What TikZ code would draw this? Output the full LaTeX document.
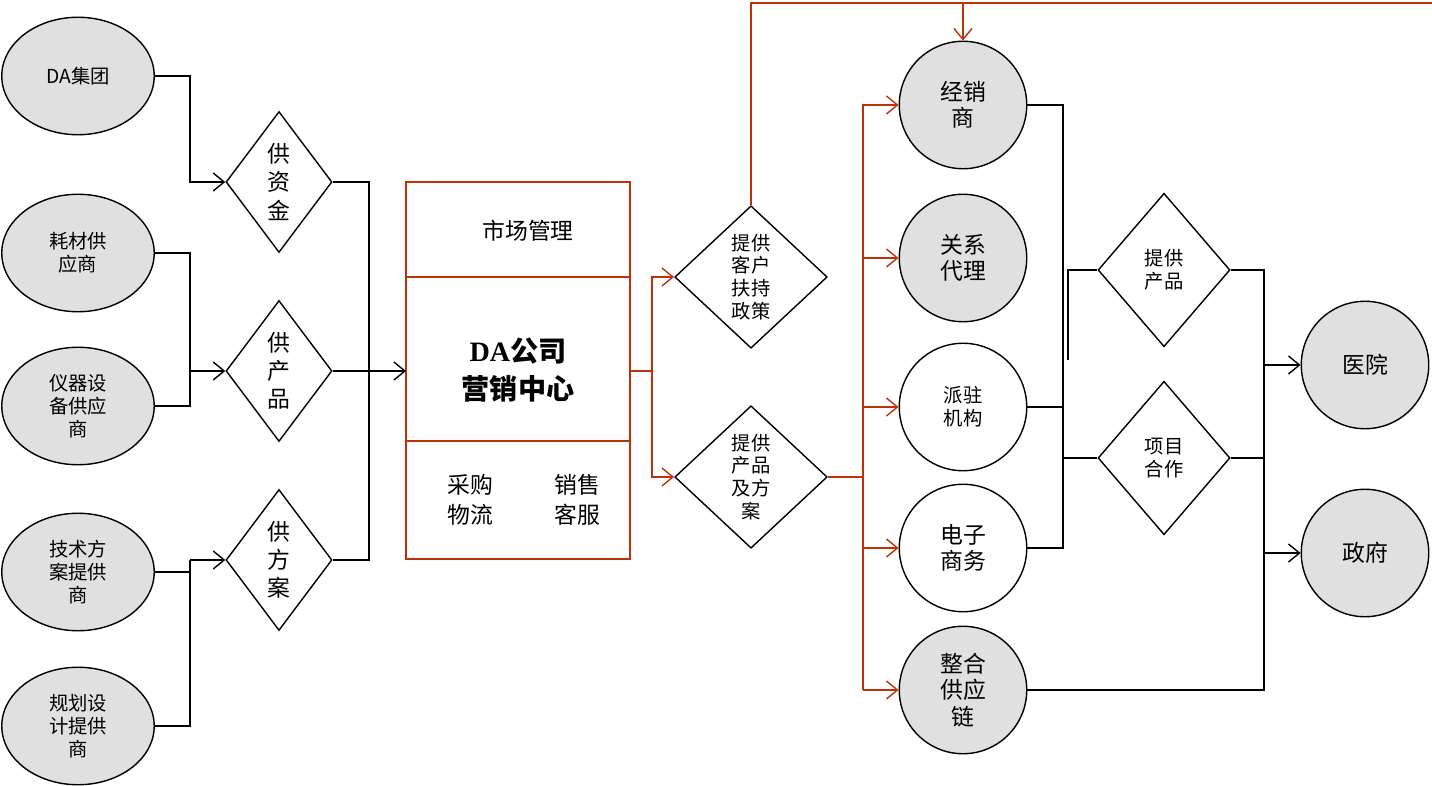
\documentclass[tikz,border=0pt]{standalone}
\usepackage{fontspec}
\setmainfont{Liberation Serif}
\newfontfamily\cjk{Noto Sans CJK SC}
\usetikzlibrary{shapes.geometric,arrows.meta}
\definecolor{redline}{RGB}{190,50,10}
\definecolor{cellgray}{RGB}{224,224,224}
\tikzset{
	party/.style={ellipse, draw, thick, fill=cellgray, minimum width=3.05cm, minimum height=2.35cm, align=center, font=\cjk\fontsize{11}{13}\selectfont, inner sep=0pt},
	unit/.style={circle, draw, thick, fill=cellgray, minimum size=2.55cm, align=center, font=\cjk\fontsize{13}{15}\selectfont, inner sep=0pt},
	gate/.style={diamond, draw, thick, fill=white, minimum width=2.12cm, minimum height=2.82cm, align=center, font=\cjk\fontsize{13}{16}\selectfont, inner sep=0pt},
	wide/.style={gate, minimum width=3.05cm, minimum height=2.85cm, font=\cjk\fontsize{11}{13}\selectfont},
	link/.style={thick, line join=miter},
	tip/.style={link, -{Straight Barb[length=2.2mm, width=3.6mm]}},
	redtip/.style={tip, draw=redline}
}
\begin{document}
\begin{tikzpicture}[x=0.02cm, y=-0.02cm]

	\useasboundingbox (0,0) rectangle (1432,786);

	% suppliers
	\node[party] (grp) at (78,76) {DA\cjk 集团};
	\node[party] (mat) at (78,253) {耗材供\\应商};
	\node[party] (ins) at (78,406) {仪器设\\备供应\\商};
	\node[party] (tec) at (78,572) {技术方\\案提供\\商};
	\node[party] (pla) at (78,726) {规划设\\计提供\\商};

	\node[gate] (fund) at (279,182) {供\\资\\金};
	\node[gate] (prod) at (279,371) {供\\产\\品};
	\node[gate] (plan) at (279,560) {供\\方\\案};

	\draw[tip] (grp.east) -- (190,76) |- (fund.west);
	\draw[link] (mat.east) -- (190,253) |- (ins.east);
	\draw[tip] (190,371) -- (prod.west);
	\draw[link] (pla.east) -- (190,726) -- (190,560);
	\draw[link] (tec.east) -- (190,572);
	\draw[tip] (190,560) -- (plan.west);

	% marketing centre
	\draw[redline, thick] (406,182) rectangle (630,559);
	\draw[redline, thick] (406,277) -- (630,277);
	\draw[redline, thick] (406,441) -- (630,441);
	\node[font=\cjk\fontsize{13}{15}\selectfont] (mkt) at (528,231) {市场管理};
	\node[font=\bfseries\fontsize{16}{22}\selectfont, align=center] (ctr) at (518,370) {DA{\cjk 公司}\\{\cjk 营销中心}};
	\node[font=\cjk\fontsize{13}{17}\selectfont, align=center] (buy) at (470,500) {采购\\物流};
	\node[font=\cjk\fontsize{13}{17}\selectfont, align=center] (svc) at (577,500) {销售\\客服};
	\coordinate (boxin) at (406,371);
	\coordinate (boxout) at (630,371);

	\draw[link] (fund.east) -- (369,182) -- (369,560) -- (plan.east);
	\draw[tip] (prod.east) -- (boxin);

	% policies
	\node[wide] (pol) at (751,277) {提供\\客户\\扶持\\政策};
	\node[wide] (sol) at (751,477) {提供\\产品\\及方\\案};

	\draw[redline, thick] (boxout) -- (652,371);
	\draw[redtip] (652,371) |- (pol.west);
	\draw[redtip] (652,371) |- (sol.west);

	% channels
	\node[unit] (dlr) at (963,105) {经销\\商};
	\node[unit] (agt) at (963,258) {关系\\代理};
	\node[unit, fill=white, font=\cjk\fontsize{11}{13}\selectfont] (bra) at (963,407) {派驻\\机构};
	\node[unit, fill=white] (ecm) at (963,548) {电子\\商务};
	\node[unit] (scm) at (963,690) {整合\\供应\\链};

	\draw[redline, thick] (sol.east) -- (863,477);
	\draw[redline, thick] (863,104) -- (863,690);
	\foreach \n in {dlr,agt,bra,ecm,scm}
		\draw[redtip] (863,0 |- \n.west) -- (\n.west);

	% customers
	\node[unit] (hos) at (1365,365) {医院};
	\node[unit] (gov) at (1365,553) {政府};

	\draw[link, redline] (pol.north) -- (751,3) -- (1531,3);
	\draw[redtip] (1531,3) -- (1531,0 |- hos.north);
	\draw[redtip] (963,3) -- (dlr.north);

	\node[gate, font=\cjk\fontsize{11}{13}\selectfont, minimum width=2.64cm, minimum height=3.07cm] (sup) at (1164,270) {提供\\产品};
	\node[gate, font=\cjk\fontsize{11}{13}\selectfont, minimum width=2.64cm, minimum height=3.07cm] (prj) at (1164,458) {项目\\合作};

	\draw[link] (dlr.east) -- (1063,105) -- (1063,548) -- (ecm.east);
	\draw[link] (bra.east) -- (1063,407);
	\draw[link] (1063,458) -- (prj.west);
	\draw[link] (1068,360) |- (sup.west);
	\draw[link] (sup.east) -- (1264,270) -- (1264,690) -- (scm.east);
	\draw[link] (prj.east) -- (1264,458);
	\draw[tip] (1264,365) -- (hos.west);
	\draw[tip] (1264,553) -- (gov.west);

\end{tikzpicture}
\end{document}
